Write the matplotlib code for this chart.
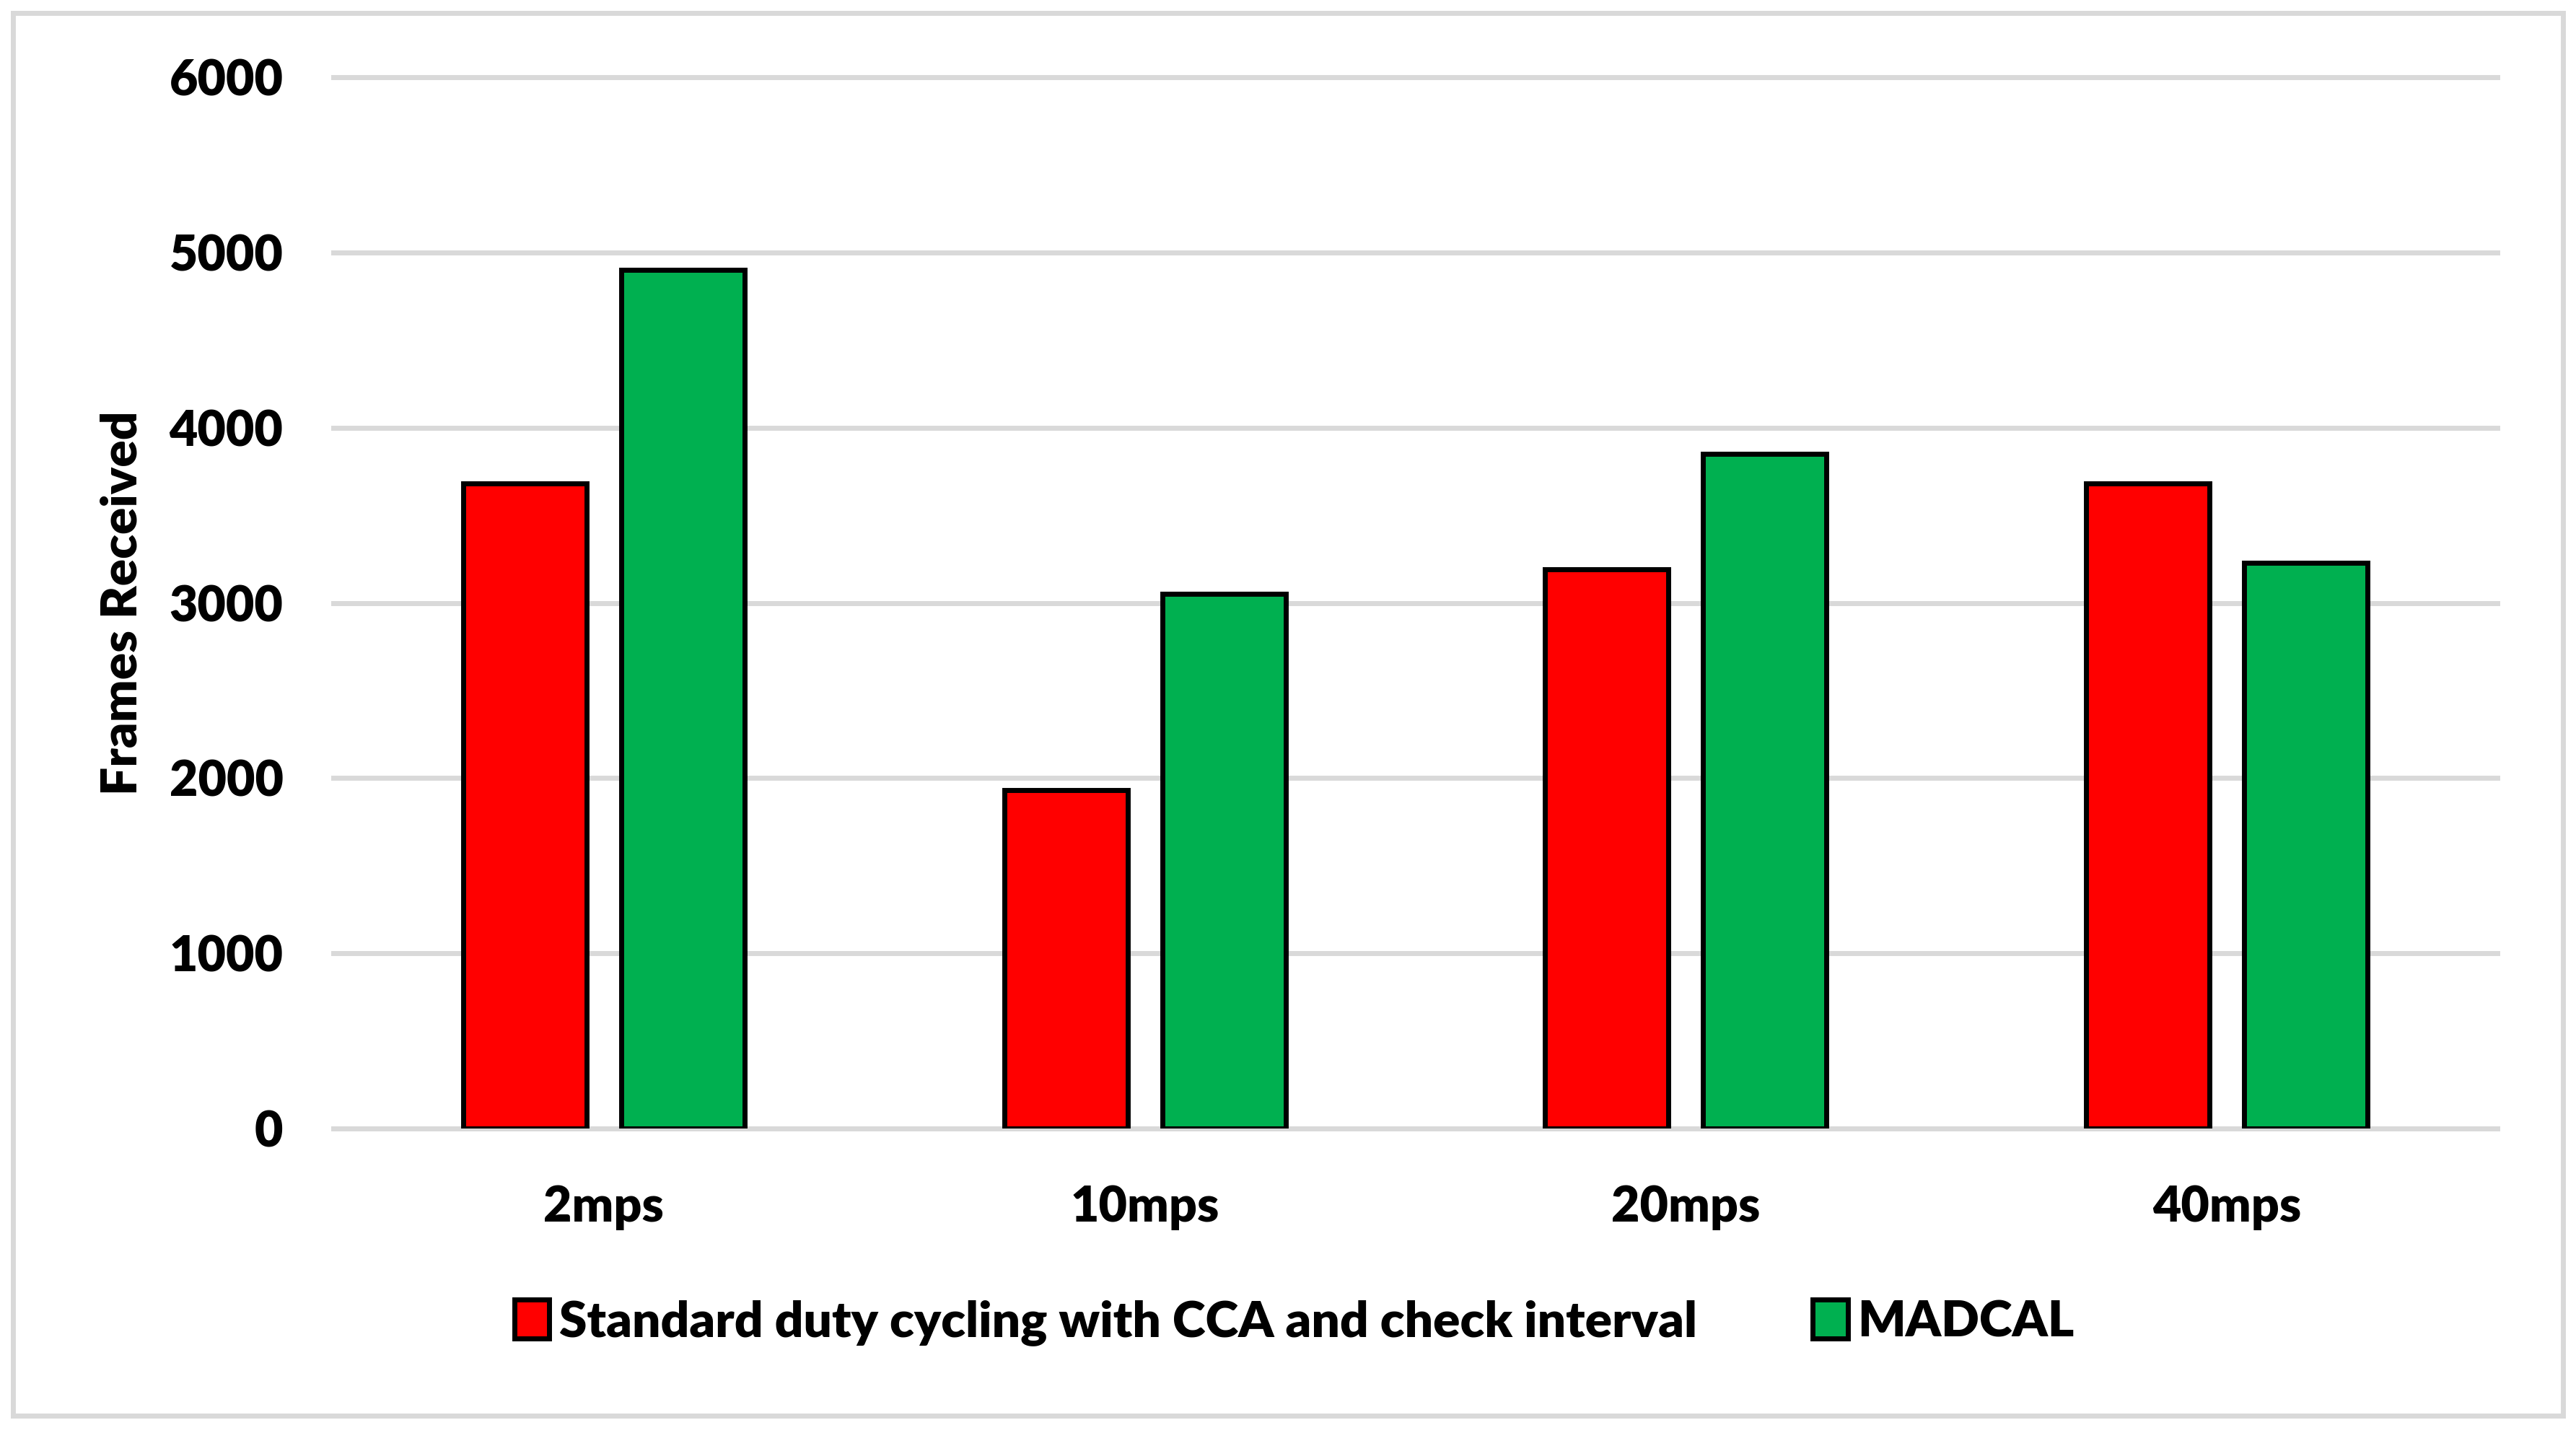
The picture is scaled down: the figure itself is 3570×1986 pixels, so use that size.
import matplotlib
matplotlib.use('Agg')

import numpy as np
import matplotlib.pyplot as plt
from matplotlib.patches import Rectangle

categories = ['2mps', '10mps', '20mps', '40mps']
standard_frames = [3680, 1930, 3190, 3680]
madcal_frames = [4900, 3050, 3850, 3230]
series_names = ['Standard duty cycling with CCA and check interval', 'MADCAL']
y_ticks = [0, 1000, 2000, 3000, 4000, 5000, 6000]

plt.rcParams['font.family'] = ['Lato', 'DejaVu Sans']
plt.rcParams['font.weight'] = 'heavy'

fig = plt.figure(figsize=(35.7, 19.86), dpi=100)
ax = fig.add_axes([0.1294, 0.2125, 0.8401, 0.7336])

x = np.arange(len(categories))
width = 0.228
ax.bar(x - 0.146, standard_frames, width, color='#FF0000', edgecolor='black',
       linewidth=5, label=series_names[0], zorder=3)
ax.bar(x + 0.146, madcal_frames, width, color='#00B050', edgecolor='black',
       linewidth=5, label=series_names[1], zorder=3)

ax.set_xlim(-0.5, 3.5)
ax.set_ylim(0, 6000)
ax.set_yticks(y_ticks)
ax.set_xticks(x)
ax.set_xticklabels(categories)
ax.tick_params(axis='both', length=0, labelsize=49)
ax.tick_params(axis='y', pad=50)
ax.tick_params(axis='x', pad=56)
for lab in ax.get_xticklabels() + ax.get_yticklabels():
    lab.set_fontweight('heavy')

# gridlines
for t in y_ticks:
    ax.axhline(t, color='#D9D9D9', linewidth=5, zorder=1, clip_on=False)
for s in ax.spines.values():
    s.set_visible(False)

ax.set_ylabel('Frames Received', fontsize=50, fontweight='heavy')
ax.yaxis.set_label_coords(-0.087, 0.5)

fig.legend(loc='center', bbox_to_anchor=(0.5025, 0.077), ncol=2, frameon=False,
           handlelength=0.7, handleheight=0.8, handletextpad=0.2,
           columnspacing=2.3, prop={'weight': 'heavy', 'size': 50})

# outer frame
fig.patches.append(Rectangle((0.005, 0.012), 0.99, 0.979, transform=fig.transFigure,
                             fill=False, edgecolor='#D9D9D9', linewidth=5))

plt.savefig('out.png', dpi=100)
plt.close(fig)
